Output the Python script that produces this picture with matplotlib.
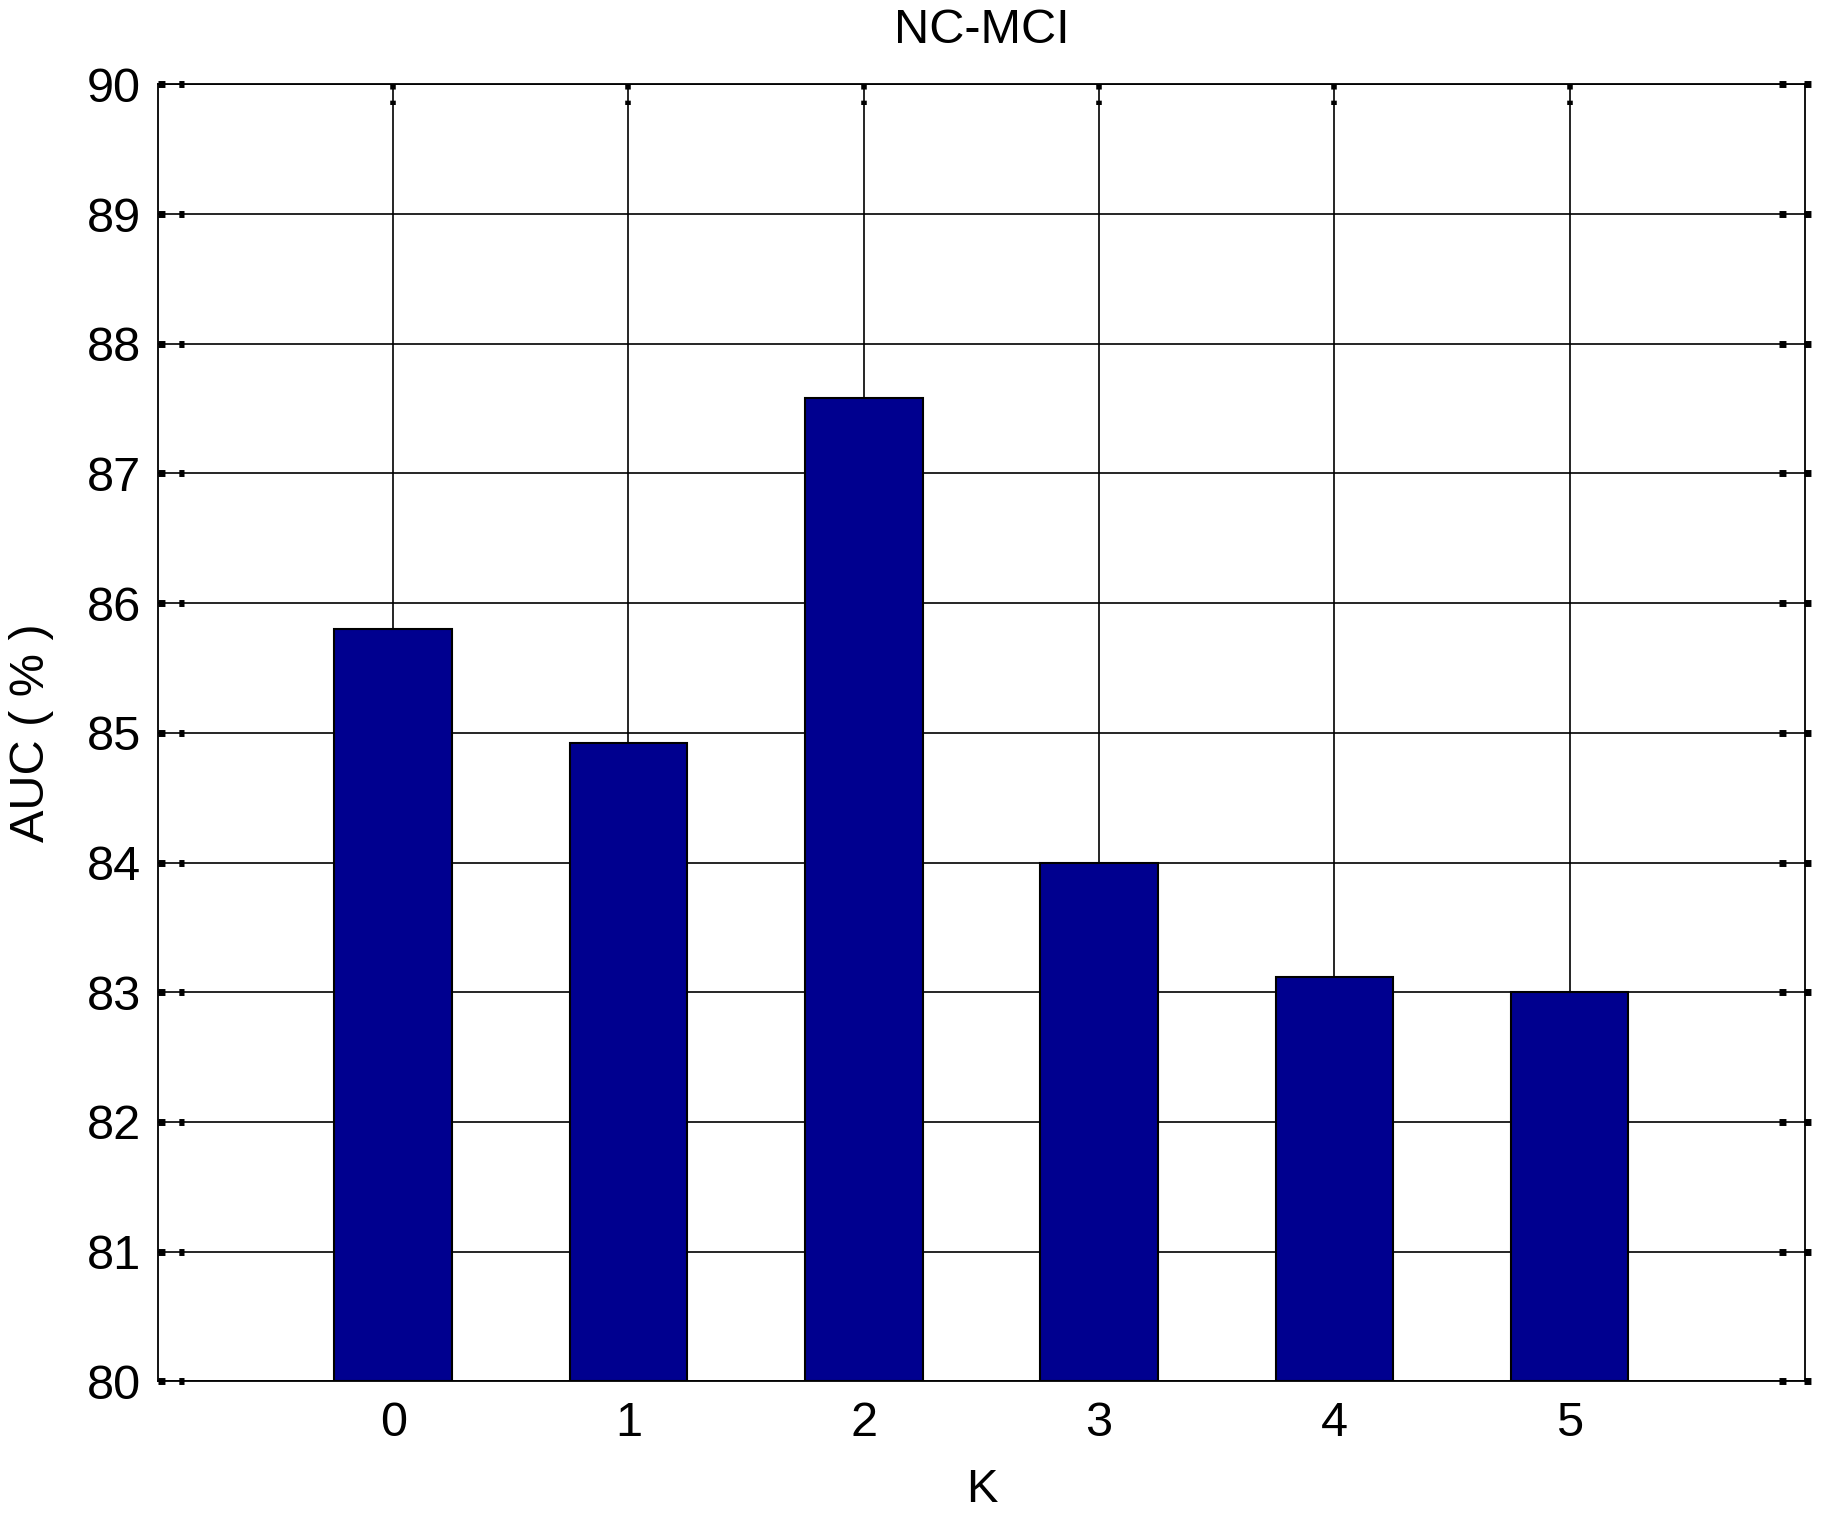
import numpy as np
import matplotlib
matplotlib.use("Agg")
import matplotlib.pyplot as plt
import matplotlib.transforms as mtrans

# data
k_vals = [0, 1, 2, 3, 4, 5]
auc = [85.8, 84.92, 87.58, 84.0, 83.12, 83.0]
yticks = list(range(80, 91))

plt.rcParams['font.family'] = ['Liberation Sans', 'DejaVu Sans']

fig = plt.figure(figsize=(18.25, 15.22), dpi=100)
ax = fig.add_axes([0.0865, 0.0925, 0.9025, 0.852])

ax.bar(k_vals, np.array(auc) - 80, bottom=80, width=0.5,
       color='#00008f', edgecolor='black', linewidth=1.5, zorder=3)

ax.set_xlim(-1, 6)
ax.set_ylim(80, 90)
ax.set_xticks(k_vals)
ax.set_yticks(yticks)
ax.grid(True, color='black', linewidth=1.2, linestyle='-', zorder=0)
ax.set_axisbelow(True)
for s in ax.spines.values():
    s.set_linewidth(1.3)
    s.set_zorder(4)

ax.tick_params(axis='both', length=0, labelsize=35)
ax.tick_params(axis='x', pad=14)
ax.tick_params(axis='y', pad=12)

# matlab-like dotted tick marks
ty = mtrans.blended_transform_factory(ax.transAxes, ax.transData)
tx = mtrans.blended_transform_factory(ax.transData, ax.transAxes)
for v in yticks:
    ax.plot([0, 0.016], [v, v], transform=ty, color='black', lw=5,
            ls=(0, (1.0, 2.0)), solid_capstyle='butt', clip_on=False, zorder=5)
    ax.plot([0.984, 1.005], [v, v], transform=ty, color='black', lw=5,
            ls=(0, (1.0, 2.6)), solid_capstyle='butt', clip_on=False, zorder=5)
for k in k_vals:
    ax.plot([k, k], [1.0, 0.984], transform=tx, color='black', lw=4,
            ls=(0, (1.0, 2.0)), solid_capstyle='butt', clip_on=False, zorder=5)

ax.set_title('NC-MCI', fontsize=35, pad=30)
ax.set_xlabel('K', fontsize=34, labelpad=16)
ax.set_ylabel('AUC ( % )', fontsize=35, labelpad=24)

fig.savefig('out.png', dpi=100)
